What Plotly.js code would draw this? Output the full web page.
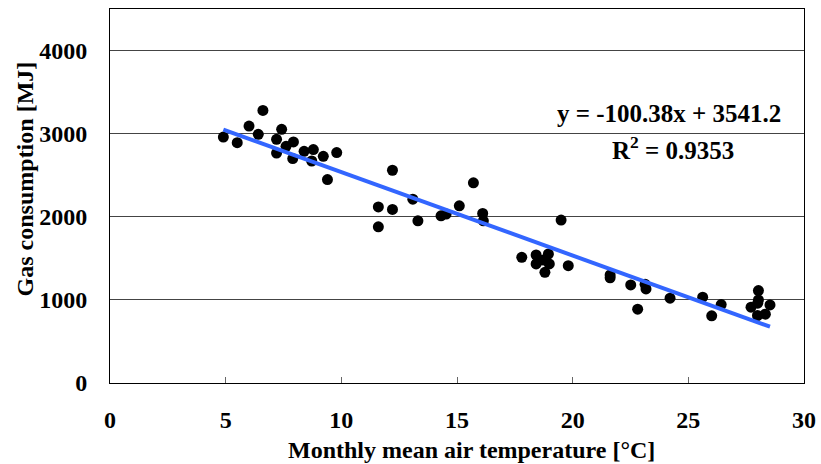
<!DOCTYPE html>
<html>
<head>
<meta charset="utf-8">
<script src="https://cdn.plot.ly/plotly-3.0.1.min.js"></script>
<style>html,body{margin:0;padding:0;background:#fff;}#chart{width:821px;height:464px;}</style>
</head>
<body>
<div id="chart"></div>
<script>
const temperature = [4.90,5.50,6.01,6.61,6.41,7.42,7.20,7.20,7.61,7.93,7.90,8.39,8.79,8.72,9.22,9.80,9.40,
  12.21,11.60,12.21,11.60,13.09,13.31,14.31,14.53,15.10,15.71,16.11,16.14,
  17.80,18.42,18.95,18.42,18.73,18.99,18.80,19.81,19.50,21.62,21.62,22.51,23.13,23.17,22.81,
  24.21,25.62,26.42,26.01,27.71,28.03,28.03,28.00,28.53,27.99,28.33];
const gas = [2959,2892,3091,3280,2992,3052,2932,2767,2848,2900,2700,2788,2808,2671,2728,2772,2448,
  2560,2119,2088,1879,2212,1951,2012,2032,2132,2408,2040,1951,
  1512,1540,1552,1432,1480,1432,1332,1412,1960,1300,1265,1180,1188,1132,888,
  1020,1032,944,808,912,1112,1000,960,940,812,828];
const slope = -100.38;
const intercept = 3541.2;
const r2 = 0.9353;
const xTicks = [0,5,10,15,20,25,30];
const yTicks = [0,1000,2000,3000,4000];
const xTitle = 'Monthly mean air temperature [°C]';
const yTitle = 'Gas consumption [MJ]';

const xMin = Math.min(...temperature), xMax = Math.max(...temperature);
const fitX = [xMin, xMax];
const fitY = fitX.map(v => slope * v + intercept);

const fam = '"Liberation Serif", "Times New Roman", serif';
const bold = {family: fam, size: 24, color: '#000', weight: 'bold'};

const data = [
  {x: temperature, y: gas, type: 'scatter', mode: 'markers',
   marker: {color: '#000', size: 11}},
  {x: fitX, y: fitY, type: 'scatter', mode: 'lines',
   line: {color: '#3366ff', width: 4}}
];

const layout = {
  width: 821, height: 464,
  margin: {l: 110, r: 17, t: 9, b: 81},
  paper_bgcolor: '#fff', plot_bgcolor: '#fff',
  showlegend: false,
  font: {family: fam, size: 24, color: '#000'},
  xaxis: {
    range: [0, 30], tickvals: xTicks, ticktext: xTicks.map(String),
    showgrid: false, zeroline: false,
    showline: true, linecolor: '#000', linewidth: 1, mirror: true,
    ticks: 'inside', ticklen: 6, tickcolor: '#666', tickwidth: 1,
    tickfont: bold,
    ticklabelstandoff: 15
  },
  yaxis: {
    range: [0, 4500], tickvals: yTicks, ticktext: yTicks.map(String),
    showgrid: true, gridcolor: '#444', gridwidth: 1, zeroline: false,
    showline: true, linecolor: '#000', linewidth: 1, mirror: true,
    ticks: '',
    tickfont: bold,
    ticklabelstandoff: 17
  },
  annotations: [
    {x: 0.5216, y: -0.179, xref: 'paper', yref: 'paper', xanchor: 'center', yanchor: 'middle', showarrow: false,
     text: xTitle, font: bold},
    {x: -0.1225, y: 0.547, xref: 'paper', yref: 'paper', xanchor: 'center', yanchor: 'middle', showarrow: false,
     textangle: -90, text: yTitle, font: bold},
    {x: 29.1, y: 3244, xref: 'x', yref: 'y', xanchor: 'right', yanchor: 'middle', showarrow: false,
     text: 'y = ' + slope.toFixed(2) + 'x + ' + intercept.toFixed(1),
     font: {family: fam, size: 25, color: '#000', weight: 'bold'}},
    {x: 24.34, y: 2824, xref: 'x', yref: 'y', xanchor: 'center', yanchor: 'middle', showarrow: false,
     text: 'R<sup>2</sup> = ' + r2.toFixed(4),
     font: {family: fam, size: 25, color: '#000', weight: 'bold'}}
  ]
};

Plotly.newPlot('chart', data, layout, {displayModeBar: false, staticPlot: true});
</script>
</body>
</html>
